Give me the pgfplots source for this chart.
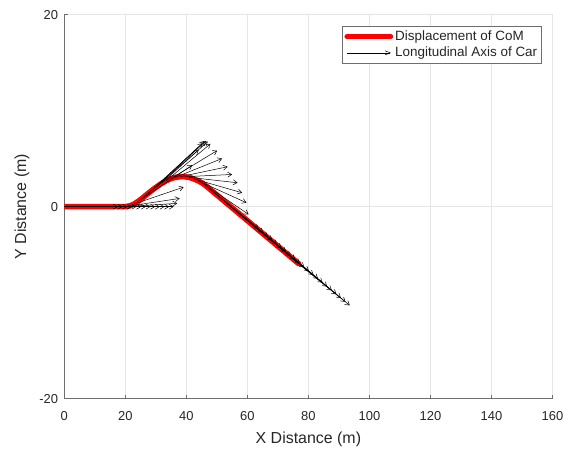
\documentclass[border=0pt]{standalone}
\usepackage{fontspec}
\setmainfont{Liberation Sans}
\usepackage{pgfplots}
\usepackage{pgfplotstable}
\pgfplotsset{compat=1.18}
\usetikzlibrary{arrows.meta}
\definecolor{gridc}{RGB}{230,230,230}
\definecolor{axc}{RGB}{110,110,110}
\definecolor{txtc}{RGB}{38,38,38}

\pgfplotstableread{
x y
0 0
18.36 0
19.9 0
21.4 0.08
22.9 0.28
24.4 0.6
25.9 0.97
27.4 1.37
28.9 1.75
30.4 2.1
31.9 2.43
33.4 2.7
34.9 2.92
36.4 3.06
37.9 3.12
39.4 3.12
40.9 3.06
42.4 2.9
43.9 2.69
45.4 2.43
46.9 2.05
76.8 -5.93
}\pathdata

\pgfplotstableread{
x y u v
0 0 17.5 0
1.53 0 17.5 0
3.06 0 17.5 0
4.59 0 17.5 0
6.12 0 17.5 0
7.65 0 17.5 0
9.18 0 17.5 0
10.71 0 17.5 0
12.24 0 17.5 0
13.77 0 17.5 0
15.30 0 17.5 0
16.83 0 17.5 0
18.36 0 17.5 0
19.9 0 17.1 0.35
21.4 0.08 16.4 0.78
22.9 0.28 16.2 1.76
24.4 0.6 17.5 3.72
25.9 0.97 18.1 4.93
27.4 1.37 17.9 5.23
28.9 1.75 17.0 5.05
30.4 2.1 16.0 4.75
31.9 2.43 15.1 4.37
33.4 2.7 14.5 3.85
34.9 2.92 15.2 2.93
36.4 3.06 15.3 1.96
37.9 3.12 15.6 1.04
39.4 3.12 15.6 0.24
40.9 3.06 15.9 -0.57
42.4 2.9 15.9 -1.45
43.9 2.69 15.8 -2.28
45.4 2.43 15.0 -3.23
46.9 2.05 16.75 -4.35
48.4 1.65 16.75 -4.35
49.9 1.25 16.75 -4.35
51.4 0.85 16.75 -4.35
52.9 0.45 16.75 -4.35
54.4 0.05 16.75 -4.35
55.9 -0.35 16.75 -4.35
57.4 -0.75 16.75 -4.35
58.9 -1.15 16.75 -4.35
60.4 -1.55 16.75 -4.35
61.9 -1.95 16.75 -4.35
63.4 -2.35 16.75 -4.35
64.9 -2.75 16.75 -4.35
66.4 -3.15 16.75 -4.35
67.9 -3.55 16.75 -4.35
69.4 -3.96 16.75 -4.35
70.9 -4.36 16.75 -4.35
72.4 -4.76 16.75 -4.35
73.9 -5.16 16.75 -4.35
75.4 -5.56 16.75 -4.35
76.8 -5.93 16.75 -4.35
}\quivdata

\begin{document}
\begin{tikzpicture}
\begin{axis}[
  scale only axis, width=488.2bp, height=384bp,
  xmin=0, xmax=160, ymin=-20, ymax=20,
  axis x line*=bottom, axis y line*=left,
  axis line style={axc, line width=0.6bp},
  xtick={0,20,40,60,80,100,120,140,160},
  xticklabels={0,20,40,60,80,100,120,140,160},
  ytick={-20,0,20}, yticklabels={-20,0,20},
  tick align=inside, major tick length=4bp,
  tick style={axc, line width=0.6bp},
  grid=major, grid style={gridc, line width=0.6bp},
  ticklabel style={font=\fontsize{13}{15}\selectfont, text=txtc},
  xticklabel style={anchor=center, yshift=-17.3bp},
  yticklabel style={anchor=east, xshift=-2.7bp},
  xlabel={X Distance (m)}, ylabel={Y Distance (m)},
  label style={font=\fontsize{16}{18}\selectfont, text=txtc},
  xlabel style={at={(axis description cs:0.5,0)}, anchor=base, yshift=-44.6bp},
  ylabel style={at={(axis description cs:-0.0866,0.5)}, anchor=center, rotate=0},
  legend cell align=left,
  legend style={at={(0.9775,0.9714)}, anchor=north east, draw=axc, line width=0.6bp,
    fill=white, font=\fontsize{13.5}{15}\selectfont, text=txtc,
    inner xsep=2bp, inner ysep=3bp, row sep=1bp, nodes={inner sep=2bp}},
]
\addplot[red, line width=5.5bp, line join=round, line cap=round,
  legend image code/.code={\draw[red, line width=4.7bp] (0bp,0bp) -- (44bp,0bp);}]
  table[x=x,y=y] {\pathdata};
\addlegendentry{Displacement of CoM}
\addplot[black, line width=0.5bp, -{Straight Barb[length=4bp,width=5bp]},
  quiver={u=\thisrow{u}, v=\thisrow{v}},
  legend image code/.code={\draw[black, line width=0.5bp, -{Straight Barb[length=5bp,width=4bp]}] (0bp,0bp) -- (44bp,0bp);}]
  table[x=x,y=y] {\quivdata};
\addlegendentry{Longitudinal Axis of Car}
\end{axis}
\path ([shift={(-64.3bp,-51.3bp)}]current axis.south west) rectangle ([shift={(18.5bp,14.7bp)}]current axis.north east);
\end{tikzpicture}
\end{document}
